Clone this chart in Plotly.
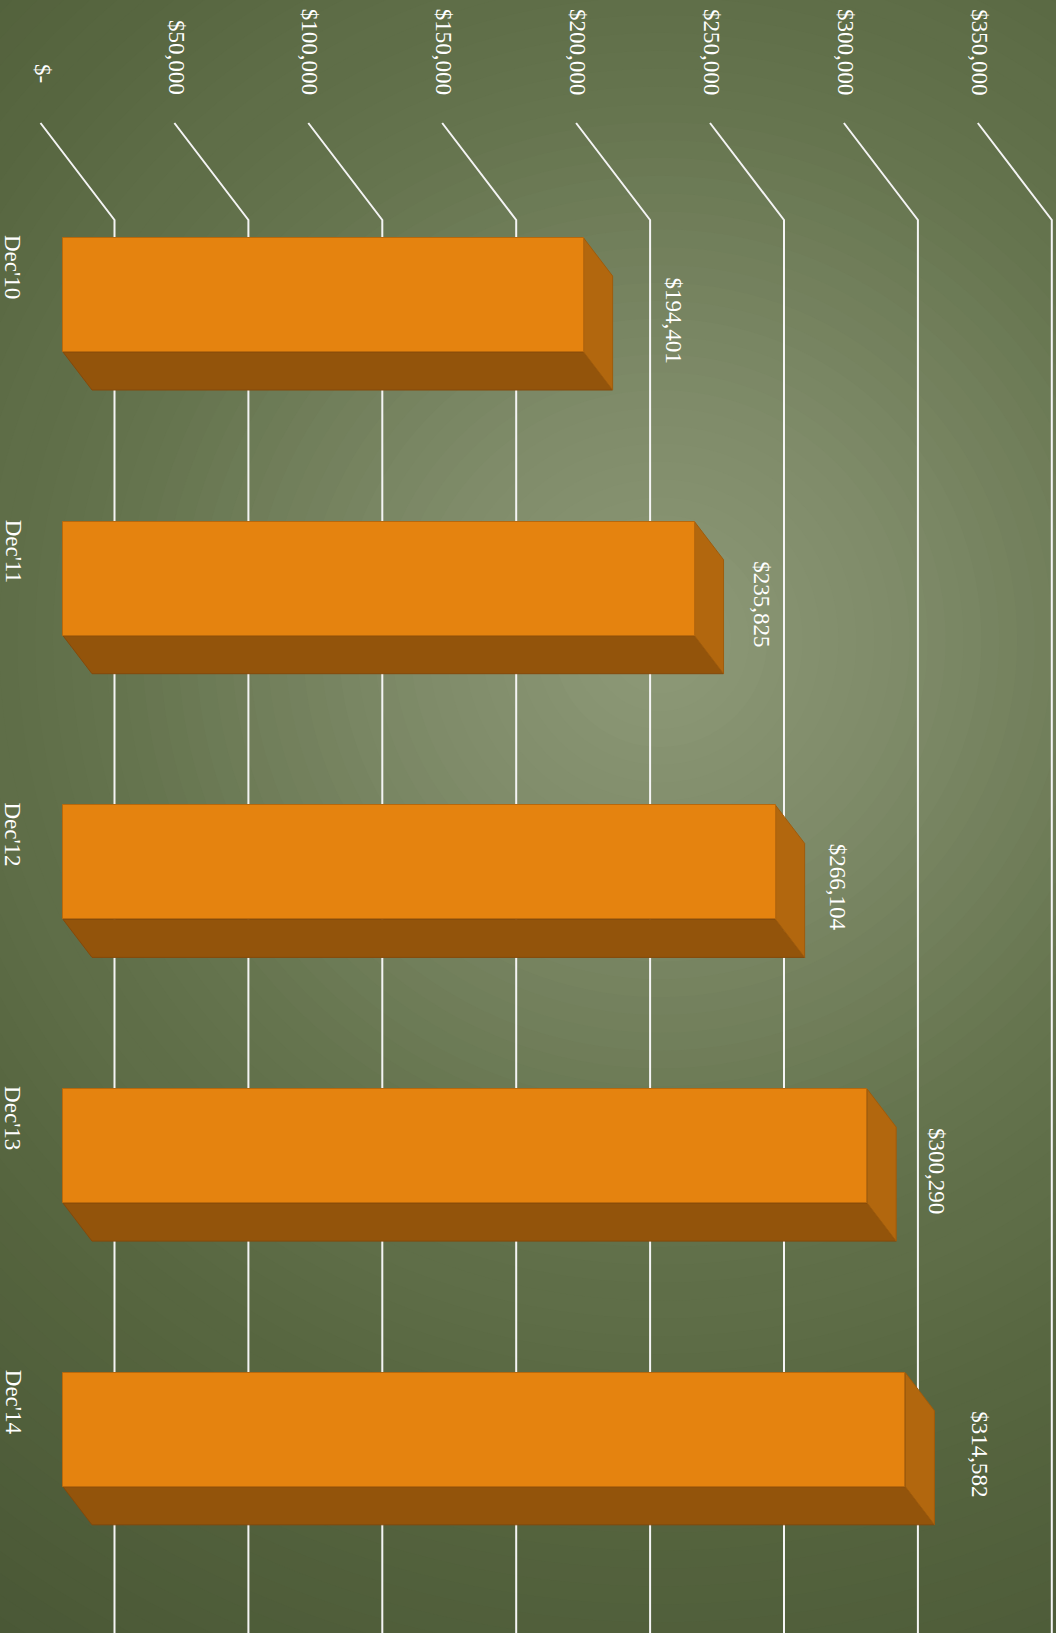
import plotly.graph_objects as go

# ---------------- data ----------------
categories = ["Dec'10", "Dec'11", "Dec'12", "Dec'13", "Dec'14"]
values = [194401, 235825, 266104, 300290, 314582]
tick_values = [0, 50000, 100000, 150000, 200000, 250000, 300000, 350000]
tick_labels = ["$-\u00a0\u00a0", "$50,000", "$100,000", "$150,000", "$200,000",
               "$250,000", "$300,000", "$350,000"]
value_labels = ["$194,401", "$235,825", "$266,104", "$300,290", "$314,582"]

# ---------------- layout constants (pixels) ----------------
W, H = 1056, 1633
PX_PER_UNIT = 133.9 / 50000.0      # value axis scale on the back (grid) plane
ZERO_PX = 114.5                    # pixel of value 0 on grid plane
FRONT_SHIFT_PX = -51.5             # front face of bars vs grid plane
DEPTH_DX, DEPTH_DY = 29.0, 38.0    # bar depth projection
GRID_DX, GRID_DY = 74.0, 97.0      # floor diagonal of gridlines
SLOT_PX = 283.7                    # category spacing
TOP0_PX = 238.0                    # front-face top of first bar
BAR_H_PX = 114.0
GRID_TOP_PX = 220.0
LABEL_GAPS_PX = [61.0, 38.0, 33.0, 41.0, 45.0]   # data-label distance from bar end

FONT = "Liberation Serif, Times New Roman, serif"
FRONT = "#E5830F"
BOTTOM = "#93540B"
END = "#B2670E"
EDGE = "#B8680C"


def ux(dpx):
    return dpx / PX_PER_UNIT


def uy_pix(p):
    return (p - TOP0_PX) / SLOT_PX


def uy(dpx):
    return dpx / SLOT_PX


xr = [-ZERO_PX / PX_PER_UNIT, (W - ZERO_PX) / PX_PER_UNIT]
yr = [uy_pix(H), uy_pix(0)]

bh = uy(BAR_H_PX)
front0 = ux(FRONT_SHIFT_PX)
ddx, ddy = ux(DEPTH_DX), uy(DEPTH_DY)

shapes = []

# ----- radial background gradient -----
def lerp(c1, c2, t):
    return tuple(round(a + (b - a) * t) for a, b in zip(c1, c2))

def hex2rgb(h):
    h = h.lstrip('#')
    return tuple(int(h[i:i + 2], 16) for i in (0, 2, 4))

stops = [(0.0, hex2rgb("#8E9A78")), (0.25, hex2rgb("#7F8B69")), (0.55, hex2rgb("#65744E")),
         (0.85, hex2rgb("#56653F")), (1.2, hex2rgb("#4A5836"))]

def grad(d):
    for (d1, c1), (d2, c2) in zip(stops[:-1], stops[1:]):
        if d <= d2:
            return lerp(c1, c2, (d - d1) / (d2 - d1))
    return stops[-1][1]

cx, cy = 660.0, 640.0
N = 70
rmax = 1250.0
for j in range(N):
    r = rmax * (1 - j / N)
    c = grad(r / 1000.0)
    shapes.append(dict(type="circle", xref="paper", yref="paper", layer="below",
                       x0=(cx - r) / W, x1=(cx + r) / W,
                       y0=1 - (cy + r) / H, y1=1 - (cy - r) / H,
                       fillcolor="rgb(%d,%d,%d)" % c, line=dict(width=0)))

# ----- gridlines (floor diagonal + vertical wall line) -----
gy_top = uy_pix(GRID_TOP_PX)
gy_diag = uy_pix(GRID_TOP_PX - GRID_DY)
gdx = ux(GRID_DX)
for v in tick_values:
    path = "M %f,%f L %f,%f L %f,%f" % (v - gdx, gy_diag, v, gy_top, v, yr[0])
    shapes.append(dict(type="path", xref="x", yref="y", layer="below", path=path,
                       line=dict(color="#F4F4F4", width=2)))

# ----- bar side faces -----
for i, v in enumerate(values):
    x0 = front0
    x1 = front0 + v
    yt = i
    yb = i + bh
    bottom = "M %f,%f L %f,%f L %f,%f L %f,%f Z" % (x0, yb, x1, yb, x1 + ddx, yb + ddy, x0 + ddx, yb + ddy)
    end = "M %f,%f L %f,%f L %f,%f L %f,%f Z" % (x1, yt, x1 + ddx, yt + ddy, x1 + ddx, yb + ddy, x1, yb)
    shapes.append(dict(type="path", xref="x", yref="y", layer="below", path=bottom,
                       fillcolor=BOTTOM, line=dict(color="#85490A", width=1)))
    shapes.append(dict(type="path", xref="x", yref="y", layer="below", path=end,
                       fillcolor=END, line=dict(color="#A05B0B", width=1)))

fig = go.Figure()
fig.add_trace(go.Bar(
    x=values, y=[i + bh / 2 for i in range(len(values))], base=front0, width=bh,
    orientation="h", marker=dict(color=FRONT, line=dict(color=EDGE, width=1)),
    hoverinfo="skip", showlegend=False))

annotations = []
# value tick labels (rotated)
for v, t in zip(tick_values, tick_labels):
    annotations.append(dict(x=v - gdx + ux(2), y=uy_pix(97), xref="x", yref="y",
                            text=t, showarrow=False, textangle=90,
                            xanchor="center", yanchor="bottom",
                            font=dict(family=FONT, size=23, color="white")))
# category labels
for i, c in enumerate(categories):
    annotations.append(dict(x=ux(13 - ZERO_PX), y=i + uy(29), xref="x", yref="y",
                            text=c, showarrow=False, textangle=90,
                            xanchor="center", yanchor="middle",
                            font=dict(family=FONT, size=23, color="white")))
# data labels
for i, (v, t) in enumerate(zip(values, value_labels)):
    annotations.append(dict(x=front0 + v + ddx + ux(LABEL_GAPS_PX[i]), y=i + uy(82),
                            xref="x", yref="y", text=t, showarrow=False, textangle=90,
                            xanchor="center", yanchor="middle",
                            font=dict(family=FONT, size=23, color="white")))

fig.update_layout(
    width=W, height=H, autosize=False,
    margin=dict(l=0, r=0, t=0, b=0, pad=0),
    paper_bgcolor="#4A5836", plot_bgcolor="rgba(0,0,0,0)",
    xaxis=dict(range=xr, visible=False, fixedrange=True),
    yaxis=dict(range=yr, visible=False, fixedrange=True),
    shapes=shapes, annotations=annotations,
    bargap=0, showlegend=False, hovermode=False,
)

fig.write_html("out.html", config={"displayModeBar": False},
               post_script="document.body.style.margin='0';document.body.style.overflow='hidden';")
